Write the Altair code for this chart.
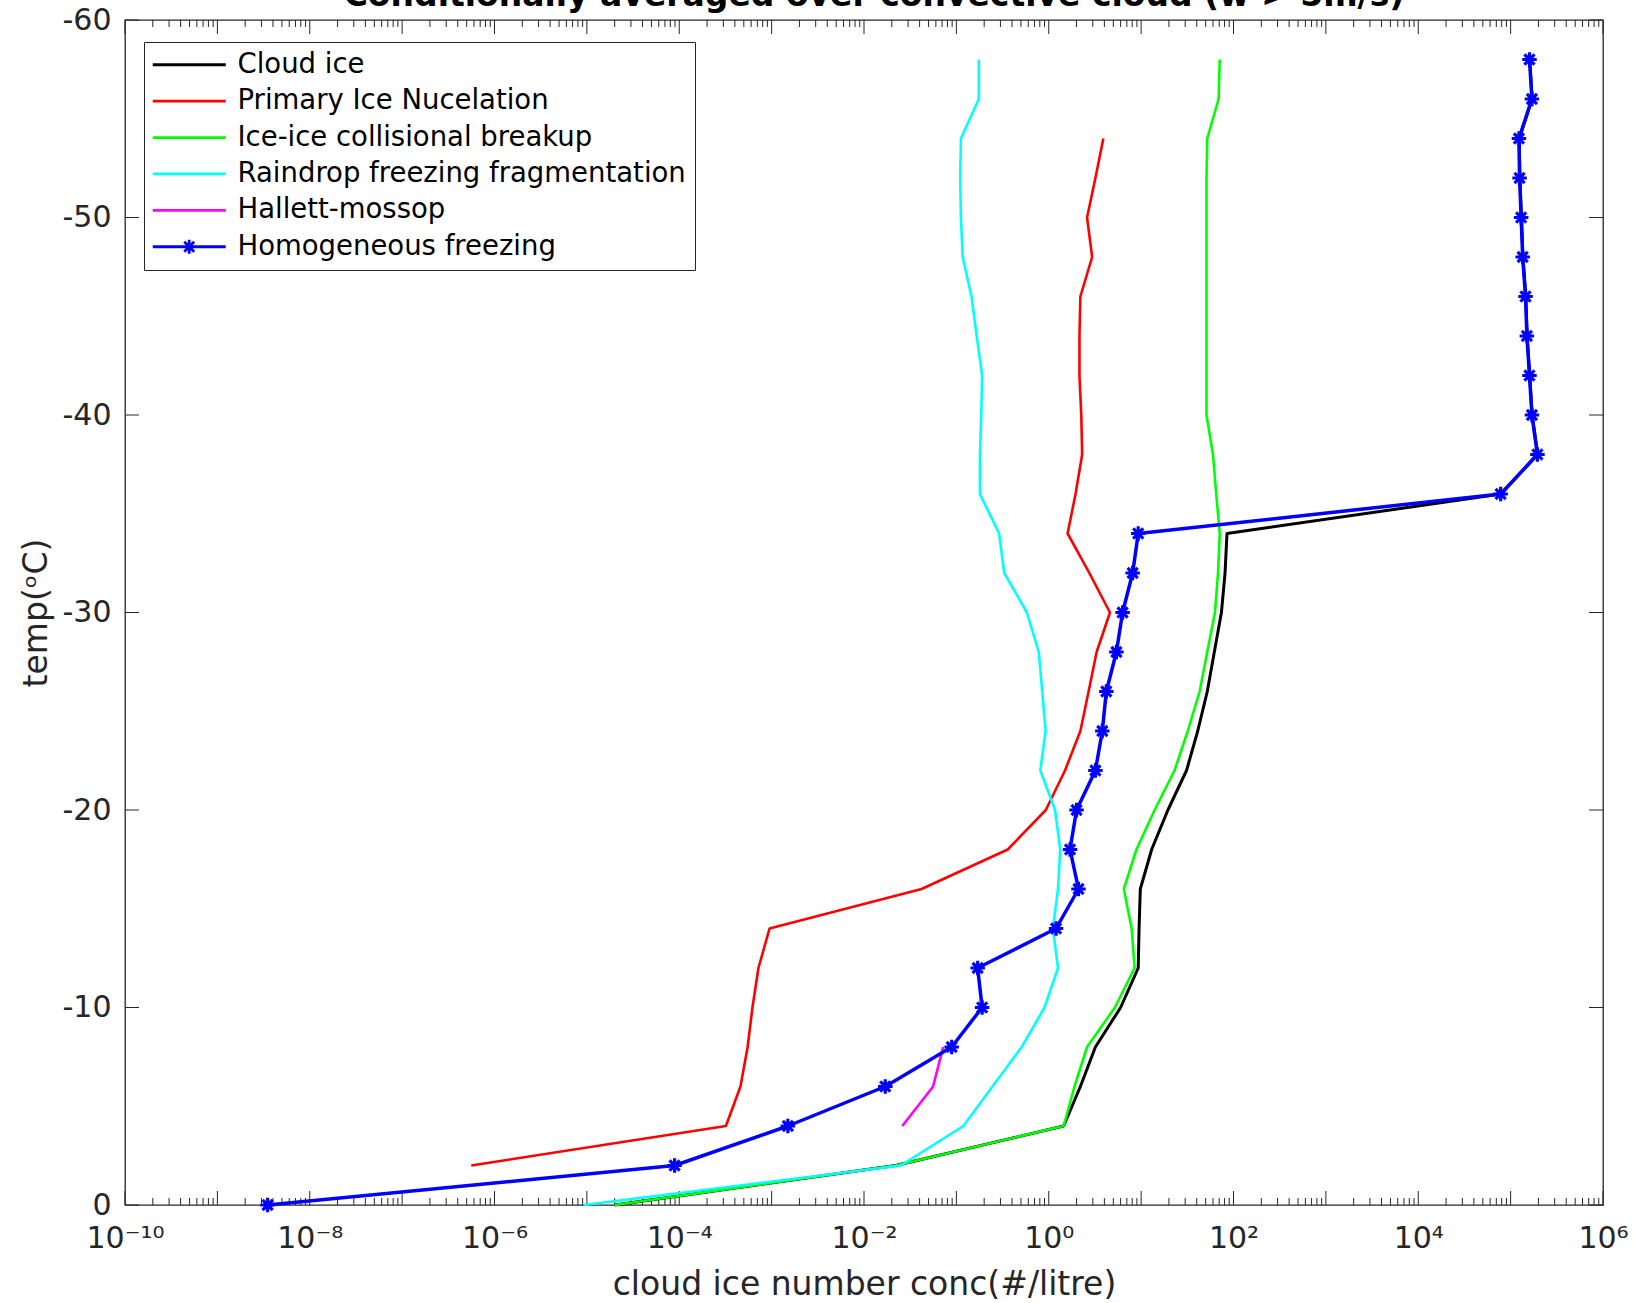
import json
import altair as alt
import pandas as pd

# ---------------- text ----------------
TITLE = "Conditionally averaged over convective cloud (w > 5m/s)"
X_TITLE = "cloud ice number conc(#/litre)"
Y_TITLE = "temp(ᵒC)"

series_names = [
    "Cloud ice",
    "Primary Ice Nucelation",
    "Ice-ice collisional breakup",
    "Raindrop freezing fragmentation",
    "Hallett-mossop",
    "Homogeneous freezing",
]
series_colors = ["#000000", "#ff0000", "#00ff00", "#00ffff", "#ff00ff", "#0000ff"]

# ---------------- data ----------------
temps = [0, -2, -4, -6, -8, -10, -12, -14, -16, -18, -20, -22, -24, -26, -28,
         -30, -32, -34, -36, -38, -40, -42, -44, -46, -48, -50, -52, -54, -56, -58]

cloud_ice = [2.0e-5, 2.2e-2, 1.45, 2.2, 3.2, 6.0, 9.3, 9.5, 9.8, 13, 19.5, 31, 41, 52, 62,
             74, 81, 85, 7.9e4, 1.96e5, 1.71e5, 1.61e5, 1.51e5, 1.46e5, 1.36e5, 1.31e5,
             1.26e5, 1.24e5, 1.71e5, 1.61e5]

primary_temps = [-2, -4, -6, -8, -10, -12, -14, -16, -18, -20, -22, -24, -26, -28,
                 -30, -32, -34, -36, -38, -40, -42, -44, -46, -48, -50, -52, -54]
primary = [5.6e-7, 3.2e-4, 4.6e-4, 5.5e-4, 6.2e-4, 7.2e-4, 9.5e-4, 4.2e-2, 0.36, 0.93,
           1.5, 2.2, 2.7, 3.3, 4.6, 2.75, 1.6, 1.95, 2.3, 2.25, 2.15, 2.15, 2.2, 2.95,
           2.6, 3.2, 3.9]

breakup = [2.0e-5, 2.2e-2, 1.45, 1.9, 2.6, 5.2, 8.5, 7.9, 6.5, 8.9, 14, 23, 32, 43, 52,
           63, 68, 71, 65, 60, 51, 51, 51, 51, 51, 51, 51, 52, 69, 71]

raindrop = [9.2e-6, 0.025, 0.119, 0.246, 0.51, 0.9, 1.26, 1.11, 1.26, 1.33, 1.17, 0.81,
            0.925, 0.85, 0.78, 0.58, 0.33, 0.29, 0.18, 0.18, 0.186, 0.19, 0.166, 0.146,
            0.117, 0.112, 0.11, 0.112, 0.175, 0.175]

hallett_temps = [-4, -6, -8]
hallett = [0.026, 0.056, 0.072]

homogeneous = [3.5e-9, 8.9e-5, 1.5e-3, 1.7e-2, 8.9e-2, 0.19, 0.17, 1.2, 2.1, 1.7, 2.0,
               3.2, 3.8, 4.2, 5.4, 6.3, 8.1, 9.3, 7.8e4, 1.95e5, 1.7e5, 1.6e5, 1.5e5,
               1.45e5, 1.35e5, 1.3e5, 1.25e5, 1.23e5, 1.7e5, 1.6e5]

# ---------------- axes ----------------
x_decades = [1e-10, 1e-9, 1e-8, 1e-7, 1e-6, 1e-5, 1e-4, 1e-3, 1e-2, 1e-1,
             1e0, 1e1, 1e2, 1e3, 1e4, 1e5, 1e6]
x_label_values = [1e-10, 1e-8, 1e-6, 1e-4, 1e-2, 1e0, 1e2, 1e4, 1e6]
x_tick_labels = ["10⁻¹⁰", "10⁻⁸", "10⁻⁶", "10⁻⁴", "10⁻²", "10⁰", "10²", "10⁴", "10⁶"]
x_minor = [m * d for d in x_decades[:-1] for m in range(2, 10)]
y_tick_values = [-60, -50, -40, -30, -20, -10, 0]

FONT = "DejaVu Sans"
AX = "#262626"
W, H = 1478, 1185
MAJOR, MINOR = 14, 7

xscale = alt.Scale(type="log", domain=[1e-10, 1e6], nice=False)
yscale = alt.Scale(domain=[-60, 0], reverse=True, nice=False, zero=False)

x_axis = alt.Axis(
    orient="bottom",
    values=x_label_values,
    labelExpr=f"{json.dumps(x_tick_labels, ensure_ascii=False)}[round((log(datum.value) / LN10 + 10) / 2)]",
    ticks=False, domain=False, grid=False,
    labelFont=FONT, labelFontSize=30, labelColor=AX, labelPadding=18,
    labelFlush=False, labelOverlap=False,
    title=X_TITLE, titleFont=FONT, titleFontSize=33, titleFontWeight="normal",
    titleColor=AX, titleY=89, titleBaseline="alphabetic",
)
y_axis = alt.Axis(
    orient="left",
    values=y_tick_values,
    labelExpr="'' + datum.value",
    ticks=False, domain=False, grid=False,
    labelFont=FONT, labelFontSize=30, labelColor=AX, labelPadding=14,
    labelOverlap=False,
    title=Y_TITLE, titleFont=FONT, titleFontSize=33, titleFontWeight="normal",
    titleColor=AX, titleX=-89, titleY=H / 2, titleBaseline="middle", titleAngle=270,
)


def X(field):
    return alt.X(field, type="quantitative", scale=xscale, axis=x_axis)


def Y(field):
    return alt.Y(field, type="quantitative", scale=yscale, axis=y_axis)


def x_tick_layer(vals, length, top):
    df = pd.DataFrame({"t": vals})
    if top:
        y, y2 = alt.value(0), alt.value(length)
    else:
        y, y2 = alt.value(H), alt.value(H - length)
    return alt.Chart(df).mark_rule(color=AX, strokeWidth=1).encode(x=X("t"), y=y, y2=y2)


def y_tick_layer(vals, length, right):
    df = pd.DataFrame({"t": vals})
    if right:
        x, x2 = alt.value(W - length), alt.value(W)
    else:
        x, x2 = alt.value(0), alt.value(length)
    return alt.Chart(df).mark_rule(color=AX, strokeWidth=1).encode(y=Y("t"), x=x, x2=x2)


def line_layer(tvals, cvals, color, width):
    df = pd.DataFrame({"temp": tvals, "conc": cvals})
    return alt.Chart(df).mark_line(color=color, strokeWidth=width, strokeJoin="round").encode(
        x=X("conc"), y=Y("temp"),
        order=alt.Order("temp:Q", sort="descending"),
    )


ASTERISK = "M-1,0L1,0M0,-1L0,1M-0.7,-0.7L0.7,0.7M-0.7,0.7L0.7,-0.7"
LEG_LINE = "M-2,0L8.43,0"
LEG_STAR = ("M-2,0L8.43,0M2.2,0L4.22,0M3.21,-1.01L3.21,1.01"
            "M2.5,-0.71L3.92,0.71M2.5,0.71L3.92,-0.71")
legend_shapes = [LEG_LINE] * 5 + [LEG_STAR]

layers = [
    x_tick_layer(x_decades, MAJOR, False),
    x_tick_layer(x_minor, MINOR, False),
    x_tick_layer(x_decades, MAJOR, True),
    x_tick_layer(x_minor, MINOR, True),
    y_tick_layer(y_tick_values, MAJOR, False),
    y_tick_layer(y_tick_values, MAJOR, True),
    line_layer(temps, cloud_ice, series_colors[0], 3),
    line_layer(primary_temps, primary, series_colors[1], 2.6),
    line_layer(temps, breakup, series_colors[2], 2.6),
    line_layer(temps, raindrop, series_colors[3], 2.6),
    line_layer(hallett_temps, hallett, series_colors[4], 2.6),
    line_layer(temps, homogeneous, series_colors[5], 3.5),
]

hom_df = pd.DataFrame({"temp": temps, "conc": homogeneous})
layers.append(
    alt.Chart(hom_df).mark_point(shape=ASTERISK, size=210, strokeWidth=3.2,
                                 color=series_colors[5], filled=False, opacity=1).encode(
        x=X("conc"), y=Y("temp"))
)

legend = alt.Legend(
    title=None, orient="none", legendX=19, legendY=22,
    fillColor="white", strokeColor=AX, padding=9, cornerRadius=0,
    labelFont=FONT, labelFontSize=27.5, labelColor="#000000", labelLimit=2000,
    labelOffset=57, rowPadding=7.4, symbolSize=196, symbolStrokeWidth=2.8,
    symbolOpacity=1, symbolFillColor="transparent",
)
leg_df = pd.DataFrame({"series": series_names,
                       "conc": [cloud_ice[5], primary[5], breakup[5], raindrop[5], hallett[0], homogeneous[5]],
                       "temp": [temps[5], primary_temps[5], temps[5], temps[5], hallett_temps[0], temps[5]]})
layers.append(
    alt.Chart(leg_df).mark_point(opacity=0, filled=False, strokeWidth=2.8).encode(
        x=X("conc"), y=Y("temp"),
        color=alt.Color("series:N", scale=alt.Scale(domain=series_names, range=series_colors), legend=legend),
        shape=alt.Shape("series:N", scale=alt.Scale(domain=series_names, range=legend_shapes), legend=legend),
    )
)

title_df = pd.DataFrame({"title": [TITLE]})
layers.append(
    alt.Chart(title_df).mark_text(font=FONT, fontSize=33, fontWeight="bold", color="#000000",
                                  align="center", baseline="alphabetic").encode(
        text="title:N", x=alt.value(W / 2 + 10), y=alt.value(-14))
)

chart = alt.layer(*layers).properties(
    width=W, height=H,
    autosize=alt.AutoSizeParams(type="none"),
    padding={"left": 125, "top": 20, "right": 31, "bottom": 98},
    background="white",
).configure_view(stroke=AX, strokeWidth=1.3)

chart.save("out.html", embed_options={"renderer": "svg", "actions": False})
